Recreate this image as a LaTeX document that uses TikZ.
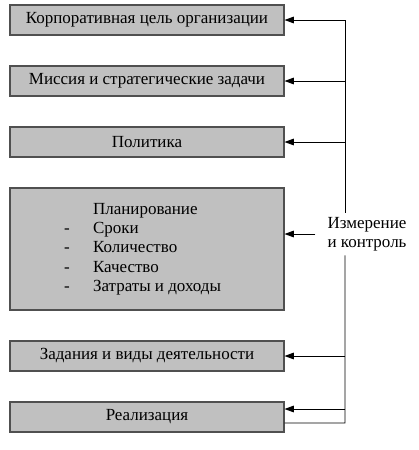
\documentclass[tikz,border=0pt]{standalone}
\usepackage{fontspec}
\setmainfont{Liberation Serif}
\usetikzlibrary{arrows.meta,positioning}
\definecolor{boxgray}{HTML}{C0C0C0}
\definecolor{edgegray}{HTML}{505050}
\tikzset{
  stage/.style={draw=edgegray,line width=.9pt,fill=boxgray,align=center,minimum width=8.22cm,minimum height=.9cm,inner sep=0pt,font=\fontsize{14.5}{16.5}\selectfont},
  feedback/.style={-{Triangle[length=2.8mm,width=2mm]},line width=.8pt},
  busline/.style={line width=.8pt},
}
\begin{document}
\begin{tikzpicture}
		\useasboundingbox (0,0) rectangle (12.57,-13.5);
		\node[stage] (goal) at (4.41,-0.6) {Корпоративная цель организации};
		\node[stage] (mission) at (4.41,-2.43) {Миссия и стратегические задачи};
		\node[stage] (policy) at (4.41,-4.26) {Политика};
		\node[stage,minimum height=3.66cm] (plan) at (4.41,-7.47) {%
			\begin{tabular}{@{}l@{\hspace{.7cm}}l@{}}
			 & Планирование\\
			- & Сроки\\
			- & Количество\\
			- & Качество\\
			- & Затраты и доходы
			\end{tabular}\hspace*{.27cm}};
		\node[stage] (tasks) at (4.41,-10.68) {Задания и виды деятельности};
		\node[stage] (impl) at (4.41,-12.51) {Реализация};
		\node[align=center,font=\fontsize{14.5}{16.5}\selectfont,inner xsep=.36cm,inner ysep=.12cm] (measure) at (11.01,-7.02) {Измерение\\и контроль};
		\coordinate (bustop) at (10.35,-0.6);
		\coordinate (busbot) at (10.35,-12.69);
		% feedback bus
		\draw[busline] ([yshift=-.18cm]impl.east) -- (busbot) -- (measure.south -| busbot);
		\draw[busline] (measure.north -| bustop) -- (bustop);
		\draw[feedback] (bustop) -- (goal.east);
		\draw[feedback] (mission.east -| bustop) -- (mission.east);
		\draw[feedback] (policy.east -| bustop) -- (policy.east);
		\draw[feedback] (measure.west) -- (measure.west -| plan.east);
		\draw[feedback] (tasks.east -| bustop) -- (tasks.east);
		\draw[feedback] ([yshift=.24cm]impl.east -| bustop) -- ([yshift=.24cm]impl.east);
	\end{tikzpicture}
\end{document}
